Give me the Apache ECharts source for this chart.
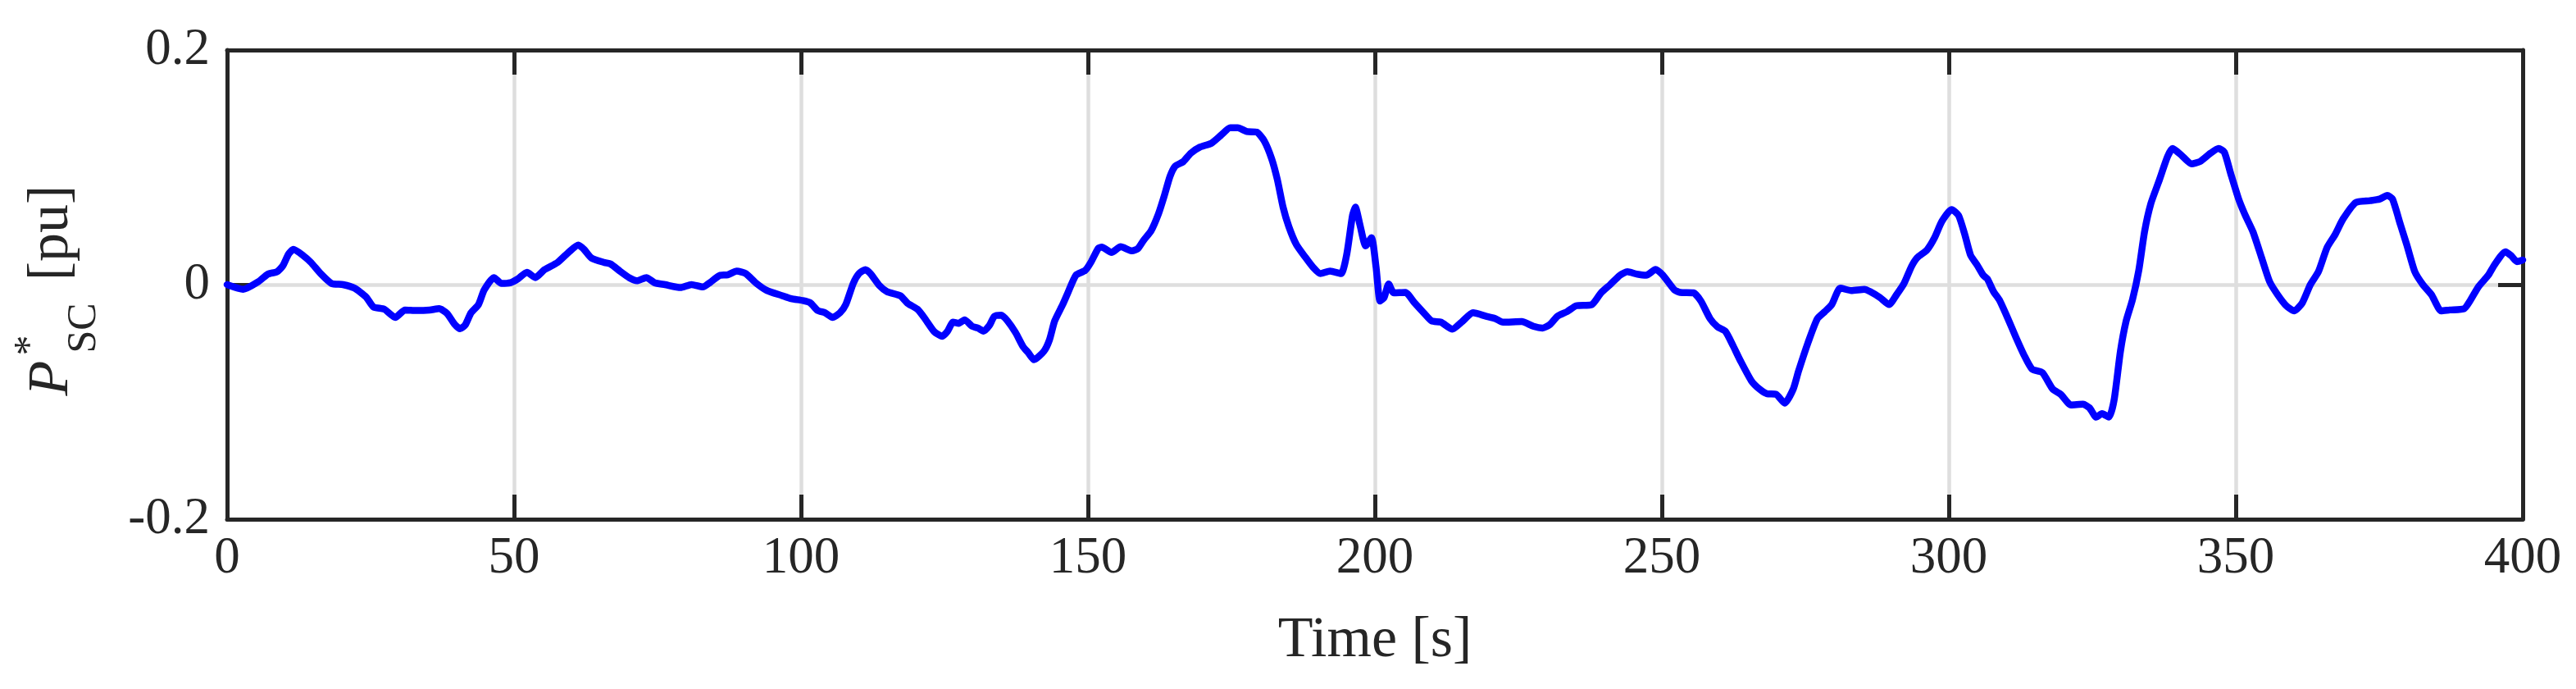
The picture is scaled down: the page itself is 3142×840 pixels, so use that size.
<!DOCTYPE html>
<html>
<head>
<meta charset="utf-8">
<script src="https://cdn.jsdelivr.net/npm/echarts@6/dist/echarts.min.js"></script>
<style>
  html, body { margin: 0; padding: 0; background: #ffffff; }
  #chart { width: 3142px; height: 840px; }
</style>
</head>
<body>
<div id="chart"></div>
<script>
// ---- data ----
const timeS = [
  0, 2.8, 5.45, 7.1, 8.7, 9.7, 10.7, 11.55, 13.3, 14.6, 16.3, 18.2, 20.2, 22.2, 24.2, 25.5, 27.4, 29.3, 31.0, 33.0,
  35.3, 36.95, 38.3, 39.6, 40.6, 41.5, 42.5, 43.8, 44.8, 46.5, 47.8, 49.4, 50.7, 52.25, 53.7, 55.3, 57.6, 59.6, 61.2, 62.2,
  63.5, 65.8, 66.8, 68.5, 70.1, 71.4, 73.05, 74.5, 76.3, 79.0, 80.9, 82.9, 84.2, 85.9, 87.2, 88.8, 90.4, 92.1, 94.05, 96.7,
  98.3, 100.3, 101.6, 102.9, 104.2, 105.5, 106.8, 107.8, 109.1, 110.1, 111.2, 112.1, 113.7, 115.0, 117.3, 118.6, 120.3, 121.6, 123.2, 124.6,
  125.5, 126.5, 127.5, 128.5, 129.8, 130.8, 131.8, 132.8, 133.7, 134.9, 136.0, 137.4, 138.7, 139.6, 140.6, 142.3, 143.3, 144.2, 145.6, 146.5,
  147.9, 149.5, 150.5, 151.8, 152.4, 154.1, 155.7, 157.7, 158.7, 159.7, 161.0, 162.3, 163.3, 164.3, 165.2, 166.6, 167.9, 169.5, 171.5, 173.1,
  174.8, 176.1, 177.7, 179.4, 180.7, 182.0, 183.0, 184.0, 185.0, 186.3, 187.9, 189.2, 190.5, 192.2, 194.1, 195.1, 196.1, 196.6, 197.4, 198.4,
  199.4, 200.2, 200.9, 201.6, 202.4, 203.3, 205.3, 206.9, 208.5, 209.9, 211.5, 213.5, 215.1, 217.1, 219.4, 221.0, 222.3, 225.6, 227.6, 229.2,
  230.5, 231.8, 233.5, 235.1, 237.8, 239.4, 241.0, 242.7, 244.0, 245.6, 247.3, 248.9, 250.2, 252.2, 253.2, 255.5, 256.8, 258.4, 259.7, 261.1,
  262.4, 263.7, 265.6, 267.0, 268.3, 269.9, 271.4, 272.9, 273.8, 275.5, 277.1, 278.4, 279.6, 281.1, 283.0, 285.3, 286.3, 288.0, 289.6, 290.9,
  292.2, 293.5, 294.5, 296.2, 297.5, 298.8, 300.5, 301.7, 302.8, 303.8, 304.9, 306.0, 306.7, 307.8, 308.8, 310.3, 311.7, 313.1, 314.5, 316.3,
  318.1, 319.5, 321.3, 323.4, 324.5, 325.7, 326.7, 327.9, 328.8, 329.9, 330.9, 332.0, 333.1, 334.1, 335.2, 336.6, 338.1, 339.0, 340.6, 342.3,
  343.8, 345.6, 347.0, 348.0, 349.1, 350.5, 351.6, 353.0, 354.5, 355.9, 357.3, 358.8, 360.2, 361.6, 363.0, 364.4, 365.9, 367.3, 368.7, 370.9,
  373.4, 375.1, 376.4, 377.3, 378.7, 379.8, 381.2, 382.6, 384.1, 385.8, 387.3, 389.8, 390.8, 392.3, 394.0, 395.1, 397.0, 398.0, 399.0, 400
];
const pscValues = [
  0, -0.004, 0.0025, 0.009, 0.011, 0.016, 0.026, 0.030, 0.0246, 0.019, 0.0094, 0.001, 0, -0.003, -0.0105, -0.019, -0.021, -0.028, -0.0216, -0.022,
  -0.0216, -0.0205, -0.0244, -0.0335, -0.0376, -0.0343, -0.024, -0.017, -0.0045, 0.006, 0.001, 0.0017, 0.005, 0.0105, 0.006, 0.0127, 0.019, 0.028, 0.0337, 0.030,
  0.0227, 0.0188, 0.0177, 0.0113, 0.0058, 0.0033, 0.006, 0.0016, 0, -0.0025, 0, -0.002, 0.002, 0.008, 0.0083, 0.0116, 0.0094, 0.0016, -0.005, -0.0094,
  -0.012, -0.0136, -0.0155, -0.022, -0.024, -0.028, -0.024, -0.017, 0.001, 0.0094, 0.0127, 0.0094, -0.001, -0.006, -0.0094, -0.016, -0.021, -0.029, -0.040, -0.044,
  -0.040, -0.032, -0.033, -0.030, -0.0355, -0.037, -0.0396, -0.035, -0.027, -0.026, -0.031, -0.041, -0.053, -0.058, -0.064, -0.057, -0.047, -0.031, -0.017, -0.007,
  0.008, 0.012, 0.019, 0.031, 0.032, 0.0274, 0.0323, 0.0288, 0.0307, 0.0378, 0.0459, 0.0605, 0.0757, 0.0923, 0.101, 0.1048, 0.112, 0.1172, 0.1205, 0.127,
  0.1338, 0.1338, 0.1305, 0.130, 0.1227, 0.1075, 0.0896, 0.066, 0.0495, 0.0343, 0.0232, 0.0149, 0.0094, 0.0116, 0.0094, 0.026, 0.059, 0.066, 0.0508, 0.033,
  0.040, 0.015, -0.014, -0.011, 0.0005, -0.007, -0.0066, -0.0155, -0.024, -0.031, -0.032, -0.038, -0.032, -0.024, -0.027, -0.029, -0.032, -0.0315, -0.0355, -0.037,
  -0.034, -0.027, -0.023, -0.018, -0.017, -0.007, 0, 0.008, 0.011, 0.009, 0.008, 0.013, 0.008, -0.0045, -0.0066, -0.007, -0.014, -0.029, -0.036, -0.040,
  -0.052, -0.065, -0.082, -0.089, -0.093, -0.0935, -0.101, -0.089, -0.074, -0.049, -0.029, -0.023, -0.017, -0.003, -0.005, -0.004, -0.006, -0.011, -0.017, -0.0086,
  0.001, 0.0155, 0.023, 0.0296, 0.0398, 0.054, 0.064, 0.059, 0.0425, 0.025, 0.017, 0.008, 0.005, -0.006, -0.013, -0.029, -0.045, -0.060, -0.072, -0.075,
  -0.089, -0.0935, -0.1026, -0.102, -0.105, -0.113, -0.110, -0.113, -0.0985, -0.057, -0.031, -0.013, 0.012, 0.045, 0.069, 0.088, 0.109, 0.116, 0.110, 0.103,
  0.105, 0.112, 0.116, 0.113, 0.095, 0.073, 0.0597, 0.045, 0.023, 0.0025, -0.0086, -0.018, -0.0224, -0.0155, 0, 0.011, 0.0315, 0.0426, 0.056, 0.070,
  0.0716, 0.073, 0.076, 0.073, 0.051, 0.034, 0.011, 0, -0.0086, -0.0224, -0.0216, -0.0205, -0.014, -0.0017, 0.008, 0.017, 0.028, 0.0246, 0.0196, 0.021
];
const xTickLabels = ['0', '50', '100', '150', '200', '250', '300', '350', '400'];
const yTickLabels = ['-0.2', '0', '0.2'];
const xAxisTitle = 'Time [s]';
const yAxisTitleParts = ['P', '*', 'SC', '[pu]'];

// ---- chart ----
const INK = '#262626';
const GRID = '#dedede';
const SERIF = '"Liberation Serif", "Times New Roman", serif';
const seriesData = timeS.map((t, i) => [t, pscValues[i]]);

const chart = echarts.init(document.getElementById('chart'), null, { renderer: 'canvas' });

const tickStyle = { show: true, inside: true, length: 30, lineStyle: { color: INK, width: 5 } };
const lineStyle = { show: true, onZero: false, lineStyle: { color: INK, width: 5 } };

const option = {
  backgroundColor: '#ffffff',
  animation: false,
  grid: { left: 277, right: 65, top: 61, bottom: 207, containLabel: false },
  xAxis: [
    {
      type: 'value', min: 0, max: 400, interval: 50, position: 'bottom',
      axisLine: lineStyle, axisTick: tickStyle,
      axisLabel: {
        fontFamily: SERIF, fontSize: 63, color: INK, margin: 17,
        formatter: (v) => xTickLabels[Math.round(v / 50)]
      },
      splitLine: { show: true, showMinLine: false, showMaxLine: false, lineStyle: { color: GRID, width: 4.5 } },
      name: xAxisTitle, nameLocation: 'middle', nameGap: 114,
      nameTextStyle: { fontFamily: SERIF, fontSize: 70, color: INK }
    },
    {
      type: 'value', min: 0, max: 400, interval: 50, position: 'top',
      axisLine: lineStyle, axisTick: tickStyle,
      axisLabel: { show: false }, splitLine: { show: false }
    }
  ],
  yAxis: [
    {
      type: 'value', min: -0.2, max: 0.2, interval: 0.2, position: 'left',
      axisLine: lineStyle, axisTick: tickStyle,
      axisLabel: {
        fontFamily: SERIF, fontSize: 63, color: INK, margin: 21, padding: [0, 0, 26, 0],
        formatter: (v) => yTickLabels[Math.round((v + 0.2) / 0.2)]
      },
      splitLine: { show: true, showMinLine: false, showMaxLine: false, lineStyle: { color: GRID, width: 4.5 } }
    },
    {
      type: 'value', min: -0.2, max: 0.2, interval: 0.2, position: 'right',
      axisLine: lineStyle, axisTick: tickStyle,
      axisLabel: { show: false }, splitLine: { show: false }
    }
  ],
  graphic: [
    { type: 'text', x: 64, y: 461, rotation: Math.PI / 2,
      style: { text: yAxisTitleParts[0], fontFamily: SERIF, fontStyle: 'italic', fontSize: 70, fill: INK, align: 'center', verticalAlign: 'middle' } },
    { type: 'text', x: 38, y: 421, rotation: Math.PI / 2,
      style: { text: yAxisTitleParts[1], fontFamily: SERIF, fontSize: 50, fill: INK, align: 'center', verticalAlign: 'middle' } },
    { type: 'text', x: 103, y: 400, rotation: Math.PI / 2,
      style: { text: yAxisTitleParts[2], fontFamily: SERIF, fontSize: 50, fill: INK, align: 'center', verticalAlign: 'middle' } },
    { type: 'text', x: 64, y: 284, rotation: Math.PI / 2,
      style: { text: yAxisTitleParts[3], fontFamily: SERIF, fontSize: 70, fill: INK, align: 'center', verticalAlign: 'middle' } }
  ],
  series: [
    {
      type: 'line', xAxisIndex: 0, yAxisIndex: 0,
      data: seriesData, showSymbol: false, smooth: 0.2, clip: true,
      lineStyle: { color: '#0000ff', width: 8.5, join: 'round', cap: 'round' },
      z: 3
    }
  ]
};
chart.setOption(option);
</script>
</body>
</html>
